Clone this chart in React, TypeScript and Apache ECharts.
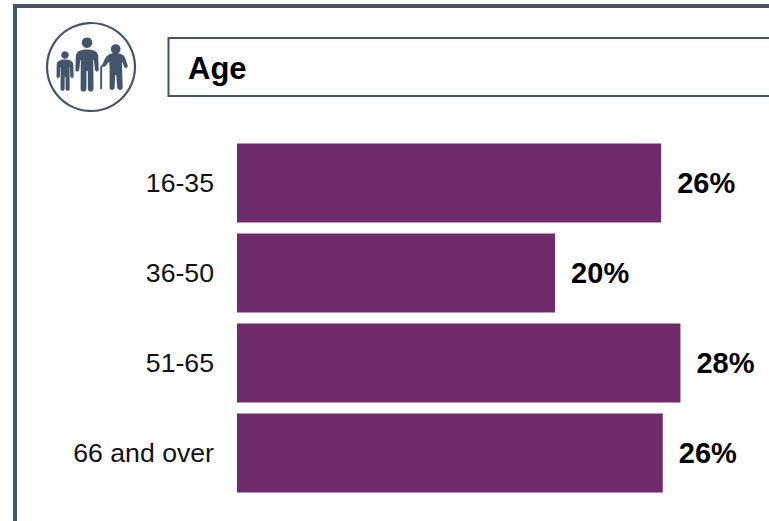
import React, { useEffect, useRef } from "react";
import * as echarts from "echarts";

const categories = ["16-35", "36-50", "51-65", "66 and over"];
const values = [26.4, 19.8, 27.6, 26.5];
const valueLabels = ["26%", "20%", "28%", "26%"];
const titleText = "Age";

const NAVY = "#44546a";
const PURPLE = "#6f2a6b";
const FONT = '"Liberation Sans", Arial, sans-serif';

const childPath =
  "M65 59.5 C60 59.5 56.9 61 56.7 64.5 L56.5 76.5 C56.5 78.4 59.7 78.4 59.9 76.5 L60.3 67 L60.7 67 L60.5 89 C60.5 91.4 64.5 91.4 64.6 89 L64.7 77 L65.5 77 L65.6 89 C65.7 91.4 69.6 91.4 69.7 89 L69.6 67 L70 67 L70.3 76.5 C70.5 78.4 73.6 78.4 73.6 76.5 L73.3 64.5 C73 61 70 59.5 65 59.5 Z";
const adultPath =
  "M87 49.5 C79.5 49.5 76 51.5 75.8 57 L75.4 69.5 C75.4 72.2 79 72.2 79.3 69.5 L80.2 60 L80.8 60 L80.6 89 C80.6 92.4 86.3 92.4 86.4 89 L86.5 71 L87.8 71 L87.9 89 C88 92.4 93.4 92.4 93.5 89 L93.3 60 L93.9 60 L95 69.5 C95.3 72.2 98.9 72.2 98.7 69.5 L98.3 57 C98 51.5 94.5 49.5 87 49.5 Z";
const elderPath =
  "M115 53 C110 53 106.6 55.5 104.6 59.5 L102.4 64.6 C101.8 66.4 104 67.6 105.2 66.2 L109.2 61.4 L109.6 68 L109.6 87.5 C109.6 90.8 114.4 90.8 114.6 87.5 L115.2 75 L116.2 75 L117.2 87.5 C117.5 90.8 122.8 90.8 122.7 87.5 L122 66 L122.2 61.5 L124.2 67 C125.2 69 128.2 68 127.7 65.6 L125.2 58 C123.8 54.6 120 53 115 53 Z";
const canePath =
  "M100.2 88.6 L100.2 68 C100.2 66.2 101.5 65.2 102.6 64.8 L103.5 66.3 C102.6 66.8 102.1 67.4 102.1 68.2 L102.1 88.6 C102.1 89.7 100.2 89.7 100.2 88.6 Z";

echarts.graphic.registerShape("childFigure", echarts.graphic.extendPath(childPath, {}));
echarts.graphic.registerShape("adultFigure", echarts.graphic.extendPath(adultPath, {}));
echarts.graphic.registerShape("elderFigure", echarts.graphic.extendPath(elderPath, {}));
echarts.graphic.registerShape("caneFigure", echarts.graphic.extendPath(canePath, {}));

export default function App() {
  const ref = useRef<HTMLDivElement>(null);
  useEffect(() => {
    document.body.style.margin = "0";
    const chart = echarts.init(ref.current!, undefined, { renderer: "svg" });
    chart.setOption({
      animation: false,
      backgroundColor: "#ffffff",
      grid: { left: 237, top: 138, width: 482, height: 360, containLabel: false },
      xAxis: { type: "value", min: 0, max: 30, show: false },
      yAxis: {
        type: "category",
        inverse: true,
        data: categories,
        axisLine: { show: false },
        axisTick: { show: false },
        axisLabel: { fontFamily: FONT, fontSize: 26.67, color: "#111111", margin: 23 },
      },
      series: [
        {
          type: "bar",
          data: values,
          barWidth: 79,
          itemStyle: { color: PURPLE },
          label: {
            show: true,
            position: "right",
            distance: 16,
            fontFamily: FONT,
            fontSize: 29,
            fontWeight: "bold",
            color: "#000000",
            formatter: (p: any) => valueLabels[p.dataIndex],
          },
        },
      ],
      graphic: [
        { type: "rect", shape: { x: 13, y: 4, width: 4, height: 517 }, style: { fill: NAVY } },
        { type: "rect", shape: { x: 13, y: 4, width: 756, height: 4 }, style: { fill: NAVY } },
        {
          type: "rect",
          shape: { x: 168.5, y: 38, width: 610, height: 58 },
          style: { fill: "#ffffff", stroke: NAVY, lineWidth: 2 },
        },
        {
          type: "text",
          x: 188,
          y: 68,
          style: {
            text: titleText,
            fontFamily: FONT,
            fontSize: 31,
            fontWeight: "bold",
            fill: "#000000",
            textVerticalAlign: "middle",
          },
        },
        {
          type: "circle",
          shape: { cx: 91, cy: 67, r: 44 },
          style: { fill: "#ffffff", stroke: NAVY, lineWidth: 2.2 },
        },
        { type: "circle", shape: { cx: 65, cy: 55, r: 3.8 }, style: { fill: NAVY } },
        { type: "circle", shape: { cx: 87, cy: 42.7, r: 5.3 }, style: { fill: NAVY } },
        { type: "circle", shape: { cx: 115.7, cy: 49, r: 4.8 }, style: { fill: NAVY } },
        { type: "childFigure", x: 0, y: 0, style: { fill: NAVY } },
        { type: "adultFigure", x: 0, y: 0, style: { fill: NAVY } },
        { type: "elderFigure", x: 0, y: 0, style: { fill: NAVY } },
        { type: "caneFigure", x: 0, y: 0, style: { fill: NAVY } },
      ],
    });
    return () => chart.dispose();
  }, []);
  return <div ref={ref} style={{ width: 769, height: 521 }} />;
}
